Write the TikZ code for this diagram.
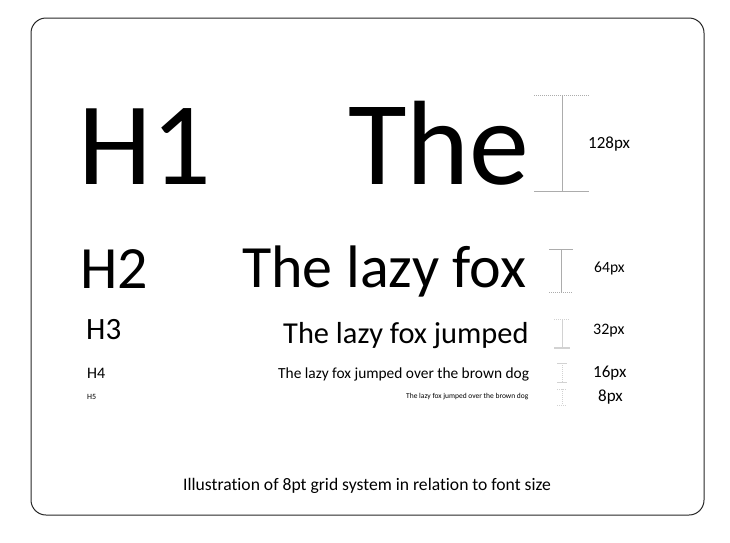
\documentclass[tikz,border=0pt]{standalone}
\usepackage{fontspec}
\setmainfont{Carlito}[Ligatures=NoCommon]
\usetikzlibrary{positioning}

\newcommand{\fsz}[1]{\fontsize{#1}{#1}\selectfont}

\begin{document}
\begin{tikzpicture}[
  x=1pt,y=-1pt,
  txt/.style={anchor=base west,inner sep=0pt},
  bar/.style={draw=gray!65,line width=1pt},
  pale/.style={draw=gray!35},
  lbl/.style={anchor=west,inner sep=0pt}
]
\useasboundingbox (0,0) rectangle (730,542);
\draw[rounded corners=15pt,line width=1pt,draw=black!85] (31,18) rectangle (704,515);

% headings on the left
\node[txt,font=\fsz{118}] (h1) at (78,184) {H1};
\node[txt,font=\fsz{60}] (h2) at (80,288) {H2};
\node[txt,font=\fsz{31}] (h3) at (86,339) {H3};
\node[txt,font=\fsz{16}] (h4) at (87,378) {H4};
\node[txt,font=\fsz{8}] (h5) at (87,399) {H5};

% sample lines, right aligned
\node[txt,font=\fsz{120}] (s1) at (348,184) {The};
\node[txt,font=\fsz{60}] (s2) at (242,287) {The lazy fox};
\node[txt,font=\fsz{30.4}] (s3) at (283,343) {The lazy fox jumped};
\node[txt,font=\fsz{15.4}] (s4) at (278,378) {The lazy fox jumped over the brown dog};
\node[txt,font=\fsz{7.5}] (s5) at (406,398) {The lazy fox jumped over the brown dog};

% size bars
\draw[bar,densely dotted] (534,95) -- (589,95);
\draw[bar] (562,95) -- (562,191);
\draw[bar] (534,191) -- (589,191);
\draw[bar] (549,249) -- (573,249);
\draw[bar] (561,249) -- (561,292);
\draw[bar,densely dotted] (549,292) -- (573,292);
\draw[bar,pale,densely dotted] (554,319) -- (570,319);
\draw[bar,pale] (562,319) -- (562,348);
\draw[bar,pale,line width=1.6pt] (554,348) -- (570,348);
\draw[bar,pale] (557,363) -- (567,363);
\draw[bar,pale,densely dotted] (562,363) -- (562,382);
\draw[bar,pale] (557,382) -- (567,382);
\draw[bar,pale,densely dotted] (557,389) -- (567,389);
\draw[bar,pale,densely dotted] (562,389) -- (562,405);
\draw[bar,pale,densely dotted] (557,405) -- (567,405);

% bar labels
\node[lbl,font=\fsz{17}] (l128) at (588,144) {128px};
\node[lbl,font=\fsz{15.6}] (l64) at (594,268) {64px};
\node[lbl,font=\fsz{16}] (l32) at (593,331) {32px};
\node[lbl,font=\fsz{17}] (l16) at (593,373) {16px};
\node[lbl,font=\fsz{17}] (l8) at (598,397) {8px};

\node[txt,font=\fsz{17.6}] (cap) at (183,490) {Illustration of 8pt grid system in relation to font size};
\end{tikzpicture}
\end{document}
